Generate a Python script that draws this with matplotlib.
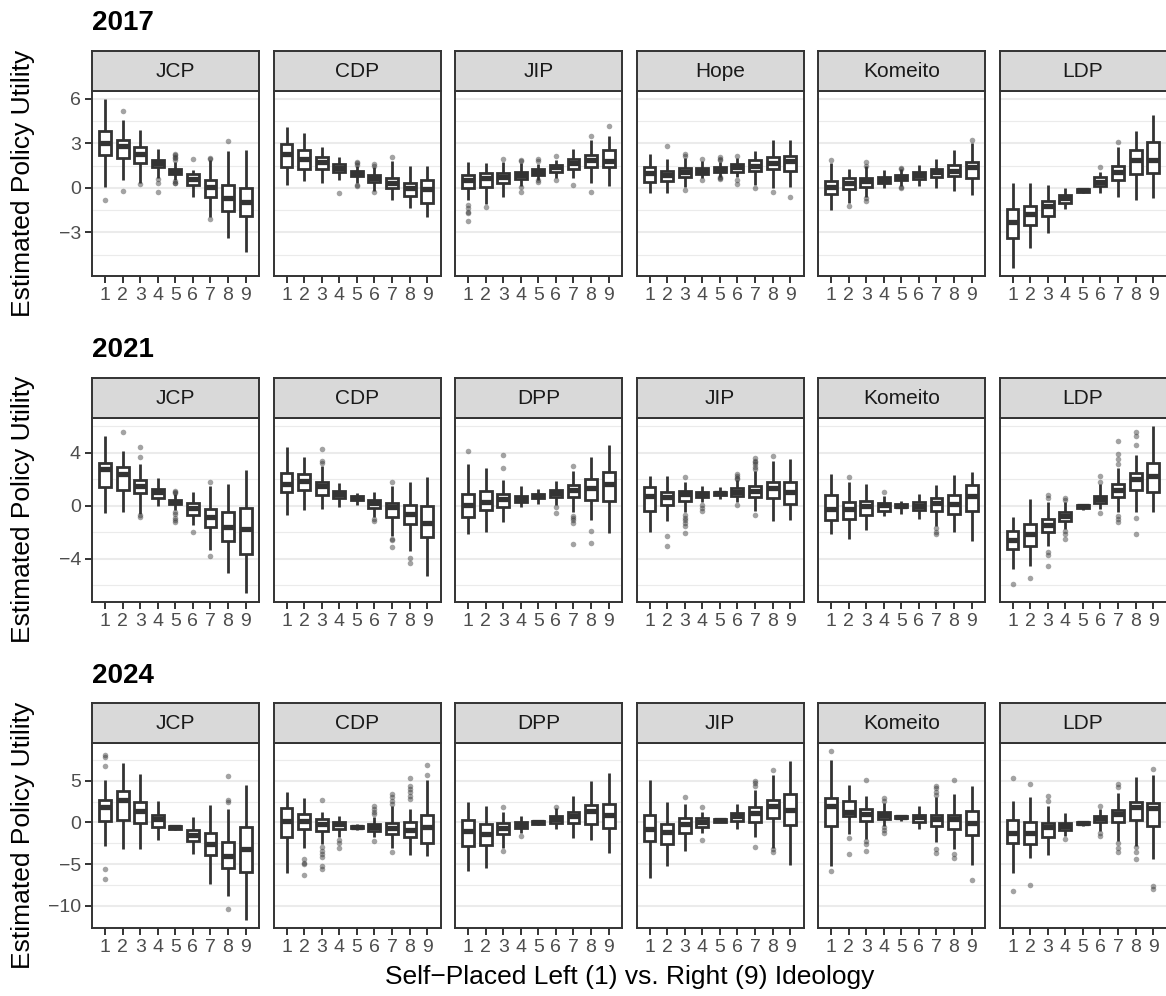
import matplotlib as mpl
mpl.use('Agg')
import matplotlib.pyplot as plt
from matplotlib.ticker import FixedLocator

plt.rcParams['font.family'] = ['Liberation Sans', 'DejaVu Sans']

ideology = [1, 2, 3, 4, 5, 6, 7, 8, 9]

# ---- 2017 ----
parties_2017 = ["JCP", "CDP", "JIP", "Hope", "Komeito", "LDP"]
lo_2017 = [[0.09, 0.5, 0.32, 0.65, 0.55, -0.59, -1.94, -3.4, -4.3],
           [0.2, 0.43, 0.36, 0.54, 0.32, -0.18, -0.85, -1.38, -1.99],
           [-0.81, -1.08, -0.59, 0.14, 0.54, 0.65, 0.65, 0.32, 0.14],
           [-0.36, -0.36, 0.09, 0.65, 0.75, 0.72, 0.2, -0.02, 0.09],
           [-1.49, -1.04, -0.59, -0.02, 0.1, 0.14, -0.02, -0.2, -0.47],
           [-5.37, -4.04, -3.07, -1.42, -0.36, -0.36, -0.59, -0.81, -0.7]]
q1_2017 = [[2.23, 1.99, 1.67, 1.38, 0.95, 0.2, -0.59, -1.53, -1.87],
           [1.44, 1.26, 1.26, 1.04, 0.77, 0.38, -0.02, -0.54, -0.99],
           [0.02, 0.09, 0.32, 0.63, 0.9, 1.06, 1.26, 1.4, 1.4],
           [0.38, 0.47, 0.72, 0.93, 1.04, 1.1, 1.15, 1.26, 1.15],
           [-0.43, -0.07, 0.05, 0.32, 0.5, 0.61, 0.72, 0.77, 0.65],
           [-3.36, -2.5, -1.9, -0.99, -0.25, 0.14, 0.5, 0.93, 0.99]]
med_2017 = [[3.02, 2.8, 2.3, 1.67, 1.15, 0.59, 0.05, -0.7, -0.93],
            [2.3, 1.94, 1.72, 1.33, 0.99, 0.65, 0.32, -0.02, -0.09],
            [0.5, 0.65, 0.72, 0.88, 1.1, 1.38, 1.67, 1.85, 1.83],
            [0.99, 0.84, 1.06, 1.17, 1.22, 1.4, 1.49, 1.67, 1.78],
            [0.05, 0.36, 0.43, 0.54, 0.7, 0.88, 1.04, 1.17, 1.4],
            [-2.28, -1.76, -1.22, -0.7, -0.14, 0.38, 1.1, 1.85, 1.85]]
q3_2017 = [[3.86, 3.2, 2.73, 1.9, 1.29, 0.95, 0.5, 0.2, 0.02],
           [2.96, 2.57, 2.08, 1.6, 1.15, 0.84, 0.65, 0.36, 0.5],
           [0.88, 0.97, 0.99, 1.1, 1.26, 1.56, 1.94, 2.23, 2.53],
           [1.4, 1.15, 1.33, 1.35, 1.4, 1.6, 1.85, 2.08, 2.17],
           [0.43, 0.65, 0.65, 0.72, 0.84, 1.04, 1.26, 1.56, 1.72],
           [-1.42, -1.22, -0.86, -0.47, -0.05, 0.72, 1.49, 2.53, 3.07]]
hi_2017 = [[5.96, 4.56, 3.93, 2.64, 1.75, 1.22, 1.85, 2.5, 2.57],
           [4.1, 3.7, 2.75, 2.08, 1.45, 1.4, 1.78, 1.49, 1.49],
           [1.74, 1.67, 1.74, 1.65, 1.6, 1.9, 2.64, 3.25, 3.48],
           [2.28, 1.94, 2.0, 1.8, 1.75, 2.0, 2.5, 3.25, 3.25],
           [1.67, 1.29, 1.45, 1.22, 1.25, 1.56, 1.94, 2.53, 3.02],
           [0.36, 0.36, 0.18, -0.02, 0.0, 1.1, 2.75, 3.81, 4.94]]
out_2017 = [[[-0.81], [5.21, -0.2], [0.27], [0.6, 0.3, -0.3], [2.3, 2.2, 2.1, 2.0, 1.9, 0.45, 0.35, 0.3],
             [1.94], [2.0, 1.95, -2.1], [3.18], []],
            [[], [], [], [-0.36], [1.75, 1.65, 1.55, 0.2, 0.1], [1.6, 1.5, -0.3], [2.08], [], []],
            [[-1.15, -1.38, -1.6, -1.72, -2.23], [-1.26], [1.96], [1.85, 1.78, 0.05, -0.25],
             [1.96, 1.78, 0.5, 0.38], [2.17, 0.54], [0.2], [3.52, -0.25], [4.15]],
            [[], [2.84], [2.28, 2.12, -0.14], [1.95, 0.5], [2.05, 1.95, 1.9, 0.7, 0.65, 0.6],
             [2.17, 0.5, 0.27], [0.02], [-0.25], [-0.63]],
            [[1.9], [-1.2], [1.72, 1.5, -0.7, -0.86], [], [1.35, 1.3, 0.05, 0.0], [], [], [], [3.25]],
            [[], [], [], [], [], [1.44], [3.07], [], []]]

# ---- 2021 ----
parties_2021 = ["JCP", "CDP", "DPP", "JIP", "Komeito", "LDP"]
lo_2021 = [[-0.55, -0.45, -0.63, 0.0, -0.3, -1.46, -3.32, -5.08, -6.59],
           [-0.7, -0.33, -0.25, -0.13, 0.05, -0.88, -2.26, -3.4, -5.28],
           [-2.14, -1.96, -1.21, -0.13, 0.1, 0.05, -0.5, -1.06, -2.06],
           [-1.96, -1.13, -0.5, 0.25, 0.5, 0.25, -0.38, -1.13, -1.06],
           [-2.09, -2.47, -1.81, -0.75, -0.63, -1.0, -1.5, -2.01, -2.64],
           [-4.78, -4.53, -3.02, -1.76, -0.3, -0.25, -0.5, -0.5, -0.45]]
q1_2021 = [[1.38, 1.21, 0.93, 0.58, 0.13, -0.68, -1.58, -2.64, -3.6],
           [1.06, 1.18, 0.8, 0.58, 0.43, -0.2, -0.83, -1.38, -2.39],
           [-0.88, -0.33, -0.08, 0.25, 0.6, 0.63, 0.63, 0.45, 0.38],
           [-0.38, 0.05, 0.38, 0.63, 0.8, 0.7, 0.63, 0.55, 0.13],
           [-1.06, -1.0, -0.68, -0.38, -0.13, -0.3, -0.38, -0.63, -0.43],
           [-3.22, -3.02, -1.96, -1.13, -0.2, 0.18, 0.63, 1.21, 1.06]]
med_2021 = [[2.77, 2.39, 1.51, 1.0, 0.3, -0.18, -0.88, -1.58, -1.76],
            [1.64, 1.89, 1.46, 0.88, 0.55, 0.2, -0.13, -0.63, -1.31],
            [0.05, 0.3, 0.5, 0.5, 0.75, 0.96, 1.18, 1.33, 1.64],
            [0.7, 0.63, 0.88, 0.88, 0.96, 1.06, 1.08, 1.31, 1.0],
            [-0.25, -0.25, 0.0, 0.05, 0.0, 0.0, 0.2, 0.13, 0.7],
            [-2.57, -2.14, -1.43, -0.75, -0.05, 0.5, 1.21, 2.01, 2.21]]
q3_2021 = [[3.22, 2.89, 1.96, 1.26, 0.45, 0.2, -0.25, -0.5, -0.18],
           [2.47, 2.39, 1.76, 1.13, 0.7, 0.45, 0.2, 0.05, -0.05],
           [0.88, 1.08, 0.88, 0.75, 0.9, 1.21, 1.56, 2.01, 2.52],
           [1.38, 1.0, 1.13, 1.06, 1.06, 1.31, 1.46, 1.81, 1.76],
           [0.83, 0.3, 0.38, 0.2, 0.15, 0.3, 0.55, 0.8, 1.56],
           [-1.89, -1.38, -1.0, -0.5, 0.05, 0.75, 1.64, 2.47, 3.22]]
hi_2021 = [[5.28, 4.15, 3.14, 2.09, 0.85, 1.0, 1.51, 1.64, 2.72],
           [4.4, 3.65, 3.0, 1.71, 0.96, 1.06, 1.46, 1.76, 2.14],
           [3.14, 2.82, 1.94, 1.46, 1.26, 1.89, 2.64, 3.65, 4.58],
           [2.21, 2.21, 1.76, 1.51, 1.38, 1.9, 2.6, 3.4, 3.52],
           [2.39, 1.76, 1.64, 0.75, 0.38, 0.88, 1.56, 2.31, 2.52],
           [-0.83, 0.5, 0.25, 0.25, 0.13, 1.64, 2.82, 3.82, 5.99]]
out_2021 = [[[], [5.58], [4.4, 3.65, -0.7, -0.88], [], [1.1, 1.0, 0.95, -0.45, -0.6, -0.9, -1.1, -1.26],
             [-2.01], [1.81, -3.77], [], []],
            [[], [], [4.28, 3.4, 3.22], [], [], [-1.0, -1.13], [1.81, -2.47, -2.57, -3.14], [-3.9, -4.28], []],
            [[4.08], [], [3.82, 2.82], [], [], [-0.13, -0.58], [3.02, -0.75, -0.95, -1.1, -1.31, -2.89],
             [-1.89, -2.77], []],
            [[], [-2.31, -3.02], [2.19, -0.7, -0.9, -1.1, -1.3, -1.5, -2.06], [0.05, -0.2, -0.38], [],
             [2.4, 2.25, 2.1, 2.0, 0.05], [3.6, 3.4, 3.25, 3.1, 2.9, 2.75, -0.7], [3.72], []],
            [[], [2.19], [], [1.0], [], [], [-1.7, -1.94, -2.14], [], []],
            [[-5.86], [-5.41], [0.8, 0.55, -3.47, -3.7, -4.53], [0.6, 0.4, -1.89, -2.14, -2.52], [],
             [2.21, 1.76, -0.58], [4.9, 3.9, 3.5, 3.14, -0.75, -1.0, -1.26], [5.53, 5.28, 4.53, -0.96, -2.09], []]]

# ---- 2024 ----
parties_2024 = ["JCP", "CDP", "DPP", "JIP", "Komeito", "LDP"]
lo_2024 = [[-2.82, -3.14, -3.14, -2.13, -0.92, -3.74, -7.45, -8.86, -11.67],
           [-6.12, -3.1, -2.62, -1.81, -0.89, -1.81, -3.02, -3.95, -4.03],
           [-5.84, -5.43, -3.02, -1.21, -0.35, -0.8, -1.93, -2.13, -3.62],
           [-6.64, -5.23, -3.42, -1.21, 0.0, -0.8, -1.81, -3.02, -5.11],
           [-5.23, -1.41, -2.01, -0.4, 0.2, -0.8, -2.33, -3.22, -5.11],
           [-6.04, -4.23, -3.9, -1.61, -0.4, -1.01, -2.21, -2.82, -4.43]]
q1_2024 = [[0.12, 0.32, -0.12, -0.52, -0.8, -2.29, -3.95, -5.52, -5.92],
           [-1.73, -0.8, -1.0, -0.8, -0.68, -1.0, -1.33, -1.73, -2.42],
           [-2.82, -2.7, -1.41, -0.72, -0.2, -0.12, -0.08, -0.2, -0.68],
           [-2.21, -2.62, -1.29, -0.52, 0.08, 0.2, 0.08, 0.48, -0.32],
           [-0.48, 0.8, 0.12, 0.4, 0.48, 0.08, -0.4, -0.8, -1.49],
           [-2.5, -2.62, -1.81, -0.89, -0.24, 0.0, 0.08, 0.28, -0.48]]
med_2024 = [[1.81, 2.74, 1.33, 0.4, -0.6, -1.49, -2.54, -4.03, -3.22],
            [0.2, 0.2, -0.2, -0.2, -0.52, -0.52, -0.72, -0.89, -0.6],
            [-1.01, -1.41, -0.72, -0.28, 0.0, 0.4, 0.8, 1.33, 0.93],
            [-0.8, -1.13, -0.2, 0.08, 0.24, 0.8, 1.13, 2.01, 1.53],
            [1.93, 1.29, 1.01, 0.93, 0.68, 0.6, 0.4, 0.4, -0.08],
            [-1.21, -1.29, -0.6, -0.4, -0.12, 0.48, 1.01, 1.81, 1.69]]
q3_2024 = [[2.74, 3.82, 2.42, 0.89, -0.4, -0.93, -1.21, -2.33, -0.52],
           [1.73, 1.01, 0.4, 0.08, -0.4, -0.2, -0.08, 0.0, 0.89],
           [0.28, -0.2, -0.12, 0.08, 0.16, 0.72, 1.29, 2.13, 2.21],
           [0.93, -0.2, 0.48, 0.48, 0.36, 1.13, 1.81, 2.7, 3.42],
           [2.9, 2.62, 1.61, 1.29, 0.8, 0.89, 0.93, 0.93, 1.41],
           [0.32, 0.08, -0.12, -0.08, 0.0, 0.8, 1.53, 2.5, 2.29]]
hi_2024 = [[5.11, 7.17, 5.84, 2.62, -0.28, 0.68, 2.09, 1.61, 4.51],
           [3.62, 2.94, 1.21, 0.72, -0.2, 0.6, 2.01, 1.61, 5.15],
           [2.42, 1.93, 1.21, 0.72, 0.28, 1.69, 3.14, 5.03, 5.96],
           [5.15, 2.5, 2.21, 1.21, 0.48, 2.21, 3.95, 5.72, 7.33],
           [7.45, 4.55, 3.22, 2.29, 0.89, 2.01, 3.02, 3.42, 4.35],
           [2.62, 3.02, 1.93, 1.13, 0.08, 1.61, 3.54, 5.43, 5.72]]
out_2024 = [[[8.13, 7.85, 6.76, -5.56, -6.76], [], [], [], [], [], [], [5.52, 2.74, 2.42, -10.39], []],
            [[], [-4.35, -4.83, -5.03, -6.36], [2.7, -3.0, -3.4, -3.8, -4.2, -5.2, -5.56], [-2.1, -2.5, -3.1],
             [], [2.0, 1.6, 1.3, 1.0, -2.29], [3.4, 3.1, 2.6, 2.2, -3.54], [5.31, 4.43, 4.03, 3.62, 3.2, 2.8],
             [6.92, 5.72]],
            [[], [], [1.81, -3.42], [-1.61], [], [1.89], [], [], []],
            [[], [], [3.02], [1.81, -2.09], [], [], [5.03, 4.71, 4.43, -2.94], [6.24, -3.22, -3.5], []],
            [[8.53, -5.84], [-1.89, -3.74], [5.15, -2.21, -2.54, -3.42], [2.9, 2.6, -0.6, -0.9, -1.21], [], [],
             [4.43, 4.1, 3.7, 3.3, -3.14, -3.62], [5.15, -3.74, -4.23], [-6.96]],
            [[5.35, -8.25], [4.63, -7.57], [3.14, 2.62], [-2.01], [], [2.01, -1.21, -1.61],
             [4.63, 4.23, -2.5, -3.1, -3.5], [-3.0, -3.5, -4.35], [6.44, -7.65, -8.05]]]

rows = [
    ("2017", parties_2017, lo_2017, q1_2017, med_2017, q3_2017, hi_2017, out_2017,
     [-3, 0, 3, 6], [-4.5, -1.5, 1.5, 4.5]),
    ("2021", parties_2021, lo_2021, q1_2021, med_2021, q3_2021, hi_2021, out_2021,
     [-4, 0, 4], [-6, -2, 2, 6]),
    ("2024", parties_2024, lo_2024, q1_2024, med_2024, q3_2024, hi_2024, out_2024,
     [-10, -5, 0, 5], [-12.5, -7.5, -2.5, 2.5, 7.5]),
]

W, H = 1166, 996
fig = plt.figure(figsize=(W / 100, H / 100), dpi=100)


def rect(x, y, w, h):
    return [x / W, 1 - (y + h) / H, w / W, h / H]


dark = '#333333'
strip_top = [51, 377.7, 703]
panel_bot = [276, 601.7, 928]
title_base = [30, 357, 683]
px_left = 92
px_w = 167
px_step = 181.5
strip_h = 40

for r, (year, parties, lo, q1, med, q3, hi, out, major, minor) in enumerate(rows):
    allv = [v for p in lo for v in p] + [v for p in hi for v in p]
    allv += [v for p in out for b in p for v in b]
    ymin, ymax = min(allv), max(allv)
    pad = 0.05 * (ymax - ymin)

    ptop = strip_top[r] + strip_h
    ph = panel_bot[r] - ptop

    for i, party in enumerate(parties):
        x0 = px_left + i * px_step
        ax = fig.add_axes(rect(x0, ptop, px_w, ph))
        stats = []
        for k in range(9):
            stats.append(dict(med=med[i][k], q1=q1[i][k], q3=q3[i][k],
                              whislo=lo[i][k], whishi=hi[i][k], fliers=out[i][k]))
        ax.bxp(stats, positions=ideology, widths=0.68, patch_artist=True,
               showcaps=False, manage_ticks=False,
               boxprops=dict(facecolor='white', edgecolor=dark, linewidth=2.0),
               whiskerprops=dict(color=dark, linewidth=2.0, solid_capstyle='butt'),
               medianprops=dict(color=dark, linewidth=3.8, solid_capstyle='butt'),
               flierprops=dict(marker='o', markerfacecolor=dark, markeredgecolor='none',
                               markersize=4.0, alpha=0.45))
        ax.set_xlim(0.26, 9.76)
        ax.set_ylim(ymin - pad, ymax + pad)
        ax.xaxis.set_major_locator(FixedLocator(ideology))
        ax.yaxis.set_major_locator(FixedLocator(major))
        ax.yaxis.set_minor_locator(FixedLocator(minor))
        ax.grid(axis='y', which='major', color='#EBEBEB', linewidth=1.5)
        ax.grid(axis='y', which='minor', color='#EBEBEB', linewidth=0.8)
        ax.set_axisbelow(True)
        ax.tick_params(which='minor', length=0)
        ax.tick_params(which='major', length=5, width=1.4, color=dark,
                       labelsize=14, labelcolor='#4D4D4D', pad=3)
        ax.set_yticklabels([str(v).replace('-', '\u2212') for v in major])
        if i > 0:
            ax.tick_params(axis='y', left=False, labelleft=False)
        for s in ax.spines.values():
            s.set_color(dark)
            s.set_linewidth(1.4)

        sax = fig.add_axes(rect(x0, strip_top[r], px_w, strip_h))
        sax.set_facecolor('#D9D9D9')
        sax.set_xticks([])
        sax.set_yticks([])
        for s in sax.spines.values():
            s.set_color(dark)
            s.set_linewidth(1.4)
        sax.text(0.5, 0.48, party, ha='center', va='center', fontsize=15,
                 color='#1A1A1A', transform=sax.transAxes)

    fig.text(px_left / W, 1 - title_base[r] / H, year, fontsize=20, fontweight='bold',
             ha='left', va='baseline')
    fig.text(23 / W, 1 - (ptop + ph / 2) / H, 'Estimated Policy Utility', rotation=90,
             ha='center', va='center', fontsize=19)

fig.text((px_left + (5 * px_step + px_w) / 2) / W, 1 - 977 / H,
         'Self\u2212Placed Left (1) vs. Right (9) Ideology',
         ha='center', va='center', fontsize=19)

fig.savefig('out.png', dpi=100)
